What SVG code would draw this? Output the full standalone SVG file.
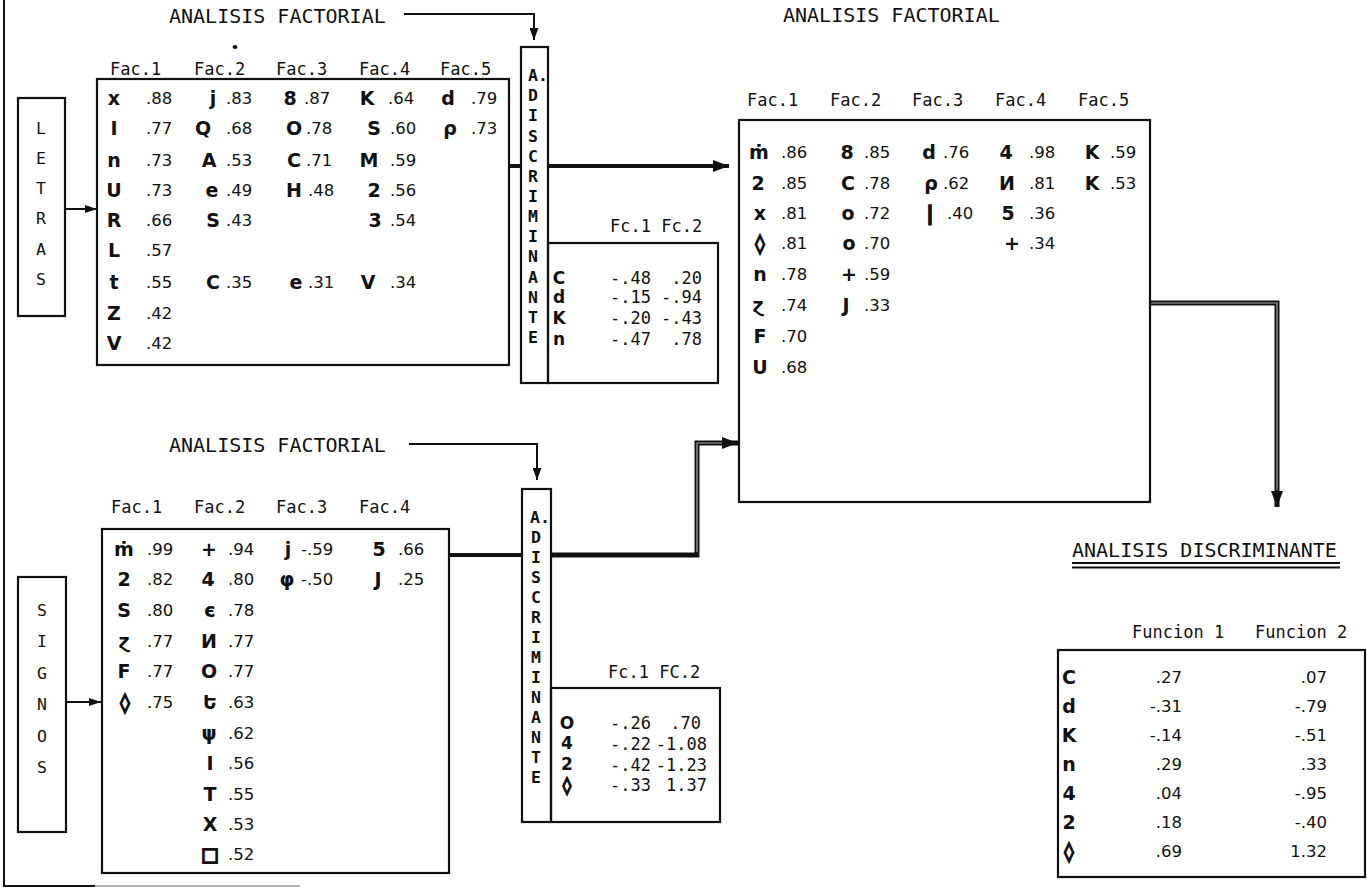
<svg xmlns="http://www.w3.org/2000/svg" width="1367" height="892" viewBox="0 0 1367 892">
<style>
.bx{fill:none;stroke:#111;stroke-width:2.2}
.t{font-family:"DejaVu Sans Mono",monospace;font-size:20px;fill:#111}
.h{font-family:"DejaVu Sans Mono",monospace;font-size:17px;fill:#111}
.v{font-family:"DejaVu Sans",sans-serif;font-size:16.5px;fill:#111}
.s{font-family:"DejaVu Sans",sans-serif;font-size:19px;font-weight:bold;fill:#111;text-anchor:middle}
.sf{font-size:17px}
.dm{stroke:#111;stroke-width:1.6}
.vl{font-family:"DejaVu Sans Mono",monospace;font-size:16.5px;fill:#111;text-anchor:middle}
.vb{font-weight:bold}
.e{text-anchor:end}
.ln{fill:none;stroke:#111;stroke-width:2}
.th{fill:none;stroke:#111;stroke-width:4}
.db{fill:none;stroke:#111;stroke-width:5}
.dbi{fill:none;stroke:#aaa;stroke-width:1.2}
</style>
<defs>
<marker id="aThin" markerUnits="userSpaceOnUse" markerWidth="12" markerHeight="9" refX="12" refY="4.5" orient="auto"><path d="M0,0 L12,4.5 L0,9 Z" fill="#111"/></marker>
<marker id="aSmall" markerUnits="userSpaceOnUse" markerWidth="12" markerHeight="8" refX="12" refY="4" orient="auto"><path d="M0,0 L12,4 L0,8 Z" fill="#111"/></marker>
<marker id="aThick" markerUnits="userSpaceOnUse" markerWidth="16" markerHeight="12" refX="16" refY="6" orient="auto"><path d="M0,0 L16,6 L0,12 Z" fill="#111"/></marker>
</defs>
<rect x="0" y="0" width="1367" height="892" fill="#fff"/>

<g id="page-frame">
<path d="M4,0 V886 H95" class="ln"/>
<path d="M95,886 H300" fill="none" stroke="#999" stroke-width="1.5"/>
</g>

<g id="connectors">
<path d="M404,14 H534 V40" class="ln" marker-end="url(#aThin)"/>
<path d="M409,444 H537 V480" class="ln" marker-end="url(#aThin)"/>
<path d="M65,209 H97" class="ln" marker-end="url(#aSmall)"/>
<path d="M66,702 H101" class="ln" marker-end="url(#aSmall)"/>
<path d="M509,166 H521" class="th"/>
<path d="M548,166 H729" class="th" marker-end="url(#aThick)"/>
<path d="M449,555 H522" class="th"/>
<path d="M551,555 H697 V443 H738" class="db" marker-end="url(#aThick)"/>
<path d="M697,552 V443 H722" class="dbi"/>
<path d="M1150,303 H1277 V507" class="db" marker-end="url(#aThick)"/>
<path d="M1150,303 H1277 V490" class="dbi"/>
</g>

<g id="letras">
<rect x="18" y="98" width="47" height="218" class="bx"/>
<text class="vl"><tspan x="41" y="134">L</tspan><tspan x="41" y="164">E</tspan><tspan x="41" y="194">T</tspan><tspan x="41" y="224">R</tspan><tspan x="41" y="255">A</tspan><tspan x="41" y="285">S</tspan></text>
</g>

<g id="signos">
<rect x="18" y="577" width="48" height="255" class="bx"/>
<text class="vl"><tspan x="42" y="616">S</tspan><tspan x="42" y="647">I</tspan><tspan x="42" y="679">G</tspan><tspan x="42" y="710">N</tspan><tspan x="42" y="742">O</tspan><tspan x="42" y="773">S</tspan></text>
</g>

<g id="af-letras">
<text x="169" y="23" class="t">ANALISIS FACTORIAL</text>
<ellipse cx="235" cy="47" rx="2.5" ry="2" fill="#111"/>
<text class="h" y="75"><tspan x="110">Fac.1</tspan><tspan x="194">Fac.2</tspan><tspan x="276">Fac.3</tspan><tspan x="359">Fac.4</tspan><tspan x="440">Fac.5</tspan></text>
<rect x="97" y="79" width="412" height="286" class="bx"/>
<g class="s">
<text x="114" y="105">x</text><text x="213" y="105">j</text><text x="290" y="105">8</text><text x="367" y="105">K</text><text x="448" y="105">d</text>
<text x="114" y="135">I</text><text x="203" y="135">Q</text><text x="294" y="135">O</text><text x="374" y="135">S</text><text x="450" y="135">ρ</text>
<text x="114" y="167">n</text><text x="209" y="167">A</text><text x="294" y="167">C</text><text x="369" y="167">M</text>
<text x="114" y="197">U</text><text x="212" y="197">e</text><text x="294" y="197">H</text><text x="374" y="197">2</text>
<text x="114" y="227">R</text><text x="213" y="227">S</text><text x="375" y="227">3</text>
<text x="114" y="257">L</text>
<text x="114" y="289">t</text><text x="213" y="289">C</text><text x="296" y="289">e</text><text x="368" y="289">V</text>
<text x="114" y="320">Z</text>
<text x="114" y="350">V</text>
</g>
<g class="v">
<text x="146" y="104">.88</text><text x="226" y="104">.83</text><text x="304" y="104">.87</text><text x="388" y="104">.64</text><text x="471" y="104">.79</text>
<text x="146" y="134">.77</text><text x="226" y="134">.68</text><text x="306" y="134">.78</text><text x="390" y="134">.60</text><text x="471" y="134">.73</text>
<text x="146" y="166">.73</text><text x="226" y="166">.53</text><text x="306" y="166">.71</text><text x="390" y="166">.59</text>
<text x="146" y="196">.73</text><text x="226" y="196">.49</text><text x="308" y="196">.48</text><text x="390" y="196">.56</text>
<text x="146" y="226">.66</text><text x="226" y="226">.43</text><text x="390" y="226">.54</text>
<text x="146" y="256">.57</text>
<text x="146" y="288">.55</text><text x="226" y="288">.35</text><text x="308" y="288">.31</text><text x="390" y="288">.34</text>
<text x="146" y="319">.42</text>
<text x="146" y="349">.42</text>
</g>
</g>

<g id="ad-letras">
<rect x="521" y="47" width="27" height="336" class="bx"/>
<text class="vl vb"><tspan x="528" y="81" text-anchor="start">A.</tspan><tspan x="533" y="101">D</tspan><tspan x="533" y="121">I</tspan><tspan x="533" y="142">S</tspan><tspan x="533" y="162">C</tspan><tspan x="533" y="182">R</tspan><tspan x="533" y="202">I</tspan><tspan x="533" y="222">M</tspan><tspan x="533" y="242">I</tspan><tspan x="533" y="262">N</tspan><tspan x="533" y="283">A</tspan><tspan x="533" y="303">N</tspan><tspan x="533" y="323">T</tspan><tspan x="533" y="343">E</tspan></text>
<text x="610" y="232" class="h">Fc.1 Fc.2</text>
<rect x="548" y="243" width="170" height="140" class="bx"/>
<g class="s sf"><text x="559" y="284">C</text><text x="559" y="303">d</text><text x="559" y="324">K</text><text x="559" y="345">n</text></g>
<g class="h">
<text x="610" y="284">-.48</text><text x="702" y="284" class="e">.20</text>
<text x="610" y="303">-.15</text><text x="702" y="303" class="e">-.94</text>
<text x="610" y="324">-.20</text><text x="702" y="324" class="e">-.43</text>
<text x="610" y="345">-.47</text><text x="702" y="345" class="e">.78</text>
</g>
</g>

<g id="af-signos">
<text x="169" y="452" class="t">ANALISIS FACTORIAL</text>
<text class="h" y="513"><tspan x="111">Fac.1</tspan><tspan x="194">Fac.2</tspan><tspan x="276">Fac.3</tspan><tspan x="359">Fac.4</tspan></text>
<rect x="102" y="529" width="347" height="344" class="bx"/>
<g class="s">
<text x="124" y="556">ṁ</text><text x="209" y="556">+</text><text x="288" y="556">j</text><text x="379" y="556">5</text>
<text x="124" y="586">2</text><text x="208" y="586">4</text><text x="287" y="586">φ</text><text x="378" y="586">J</text>
<text x="124" y="617">S</text><text x="210" y="617">є</text>
<text x="124" y="648">ɀ</text><text x="209" y="648">И</text>
<text x="124" y="678">F</text><text x="209" y="678">O</text>
<text x="125" y="709" class="dm">◊</text><text x="210" y="709">Ե</text>
<text x="209" y="740">ψ</text>
<text x="210" y="770">I</text>
<text x="210" y="801">T</text>
<text x="210" y="831">X</text>
<text x="210" y="861" class="dm">□</text>
</g>
<g class="v">
<text x="147" y="555">.99</text><text x="228" y="555">.94</text><text x="301" y="555">-.59</text><text x="398" y="555">.66</text>
<text x="147" y="585">.82</text><text x="228" y="585">.80</text><text x="301" y="585">-.50</text><text x="398" y="585">.25</text>
<text x="147" y="616">.80</text><text x="228" y="616">.78</text>
<text x="147" y="647">.77</text><text x="228" y="647">.77</text>
<text x="147" y="677">.77</text><text x="228" y="677">.77</text>
<text x="147" y="708">.75</text><text x="228" y="708">.63</text>
<text x="228" y="739">.62</text>
<text x="228" y="769">.56</text>
<text x="228" y="800">.55</text>
<text x="228" y="830">.53</text>
<text x="228" y="860">.52</text>
</g>
</g>

<g id="ad-signos">
<rect x="522" y="489" width="29" height="333" class="bx"/>
<text class="vl vb"><tspan x="530" y="523" text-anchor="start">A.</tspan><tspan x="536" y="543">D</tspan><tspan x="536" y="563">I</tspan><tspan x="536" y="583">S</tspan><tspan x="536" y="603">C</tspan><tspan x="536" y="623">R</tspan><tspan x="536" y="643">I</tspan><tspan x="536" y="663">M</tspan><tspan x="536" y="683">I</tspan><tspan x="536" y="703">N</tspan><tspan x="536" y="723">A</tspan><tspan x="536" y="743">N</tspan><tspan x="536" y="763">T</tspan><tspan x="536" y="783">E</tspan></text>
<text x="608" y="678" class="h">Fc.1 FC.2</text>
<rect x="551" y="688" width="169" height="134" class="bx"/>
<g class="s sf"><text x="567" y="729">O</text><text x="567" y="749">4</text><text x="567" y="770">2</text><text x="567" y="791" class="dm">◊</text></g>
<g class="h">
<text x="610" y="729">-.26</text><text x="701" y="729" class="e">.70</text>
<text x="610" y="750">-.22</text><text x="707" y="750" class="e">-1.08</text>
<text x="610" y="771">-.42</text><text x="707" y="771" class="e">-1.23</text>
<text x="610" y="791">-.33</text><text x="707" y="791" class="e">1.37</text>
</g>
</g>

<g id="af-combined">
<text x="783" y="22" class="t">ANALISIS FACTORIAL</text>
<text class="h" y="106"><tspan x="747">Fac.1</tspan><tspan x="830">Fac.2</tspan><tspan x="912">Fac.3</tspan><tspan x="995">Fac.4</tspan><tspan x="1078">Fac.5</tspan></text>
<rect x="739" y="120" width="411" height="382" class="bx"/>
<g class="s">
<text x="759" y="159">ṁ</text><text x="847" y="159">8</text><text x="929" y="159">d</text><text x="1006" y="159">4</text><text x="1092" y="159">K</text>
<text x="758" y="190">2</text><text x="848" y="190">C</text><text x="931" y="190">ρ</text><text x="1007" y="190">И</text><text x="1092" y="190">K</text>
<text x="760" y="220">x</text><text x="848" y="220">o</text><text x="930" y="220" class="dm">|</text><text x="1008" y="220">5</text>
<text x="760" y="250" class="dm">◊</text><text x="849" y="250">o</text><text x="1012" y="250">+</text>
<text x="760" y="281">n</text><text x="849" y="281">+</text>
<text x="758" y="312">ɀ</text><text x="846" y="312">J</text>
<text x="760" y="343">F</text>
<text x="760" y="374">U</text>
</g>
<g class="v">
<text x="781" y="158">.86</text><text x="864" y="158">.85</text><text x="943" y="158">.76</text><text x="1029" y="158">.98</text><text x="1110" y="158">.59</text>
<text x="781" y="189">.85</text><text x="864" y="189">.78</text><text x="943" y="189">.62</text><text x="1029" y="189">.81</text><text x="1110" y="189">.53</text>
<text x="781" y="219">.81</text><text x="864" y="219">.72</text><text x="947" y="219">.40</text><text x="1029" y="219">.36</text>
<text x="781" y="249">.81</text><text x="864" y="249">.70</text><text x="1029" y="249">.34</text>
<text x="781" y="280">.78</text><text x="864" y="280">.59</text>
<text x="781" y="311">.74</text><text x="864" y="311">.33</text>
<text x="781" y="342">.70</text>
<text x="781" y="373">.68</text>
</g>
</g>

<g id="ad-result">
<text x="1072" y="557" class="t">ANALISIS DISCRIMINANTE</text>
<path d="M1072,563 H1340 M1072,567.5 H1340" fill="none" stroke="#111" stroke-width="1.8"/>
<text class="h" y="638"><tspan x="1132">Funcion 1</tspan><tspan x="1255">Funcion 2</tspan></text>
<rect x="1058" y="650" width="307" height="227" class="bx"/>
<g class="s"><text x="1069" y="684">C</text><text x="1069" y="713">d</text><text x="1069" y="742">K</text><text x="1069" y="771">n</text><text x="1069" y="800">4</text><text x="1069" y="829">2</text><text x="1069" y="858" class="dm">◊</text></g>
<g class="v e">
<text x="1182" y="683">.27</text><text x="1327" y="683">.07</text>
<text x="1182" y="712">-.31</text><text x="1327" y="712">-.79</text>
<text x="1182" y="741">-.14</text><text x="1327" y="741">-.51</text>
<text x="1182" y="770">.29</text><text x="1327" y="770">.33</text>
<text x="1182" y="799">.04</text><text x="1327" y="799">-.95</text>
<text x="1182" y="828">.18</text><text x="1327" y="828">-.40</text>
<text x="1182" y="857">.69</text><text x="1327" y="857">1.32</text>
</g>
</g>
</svg>
